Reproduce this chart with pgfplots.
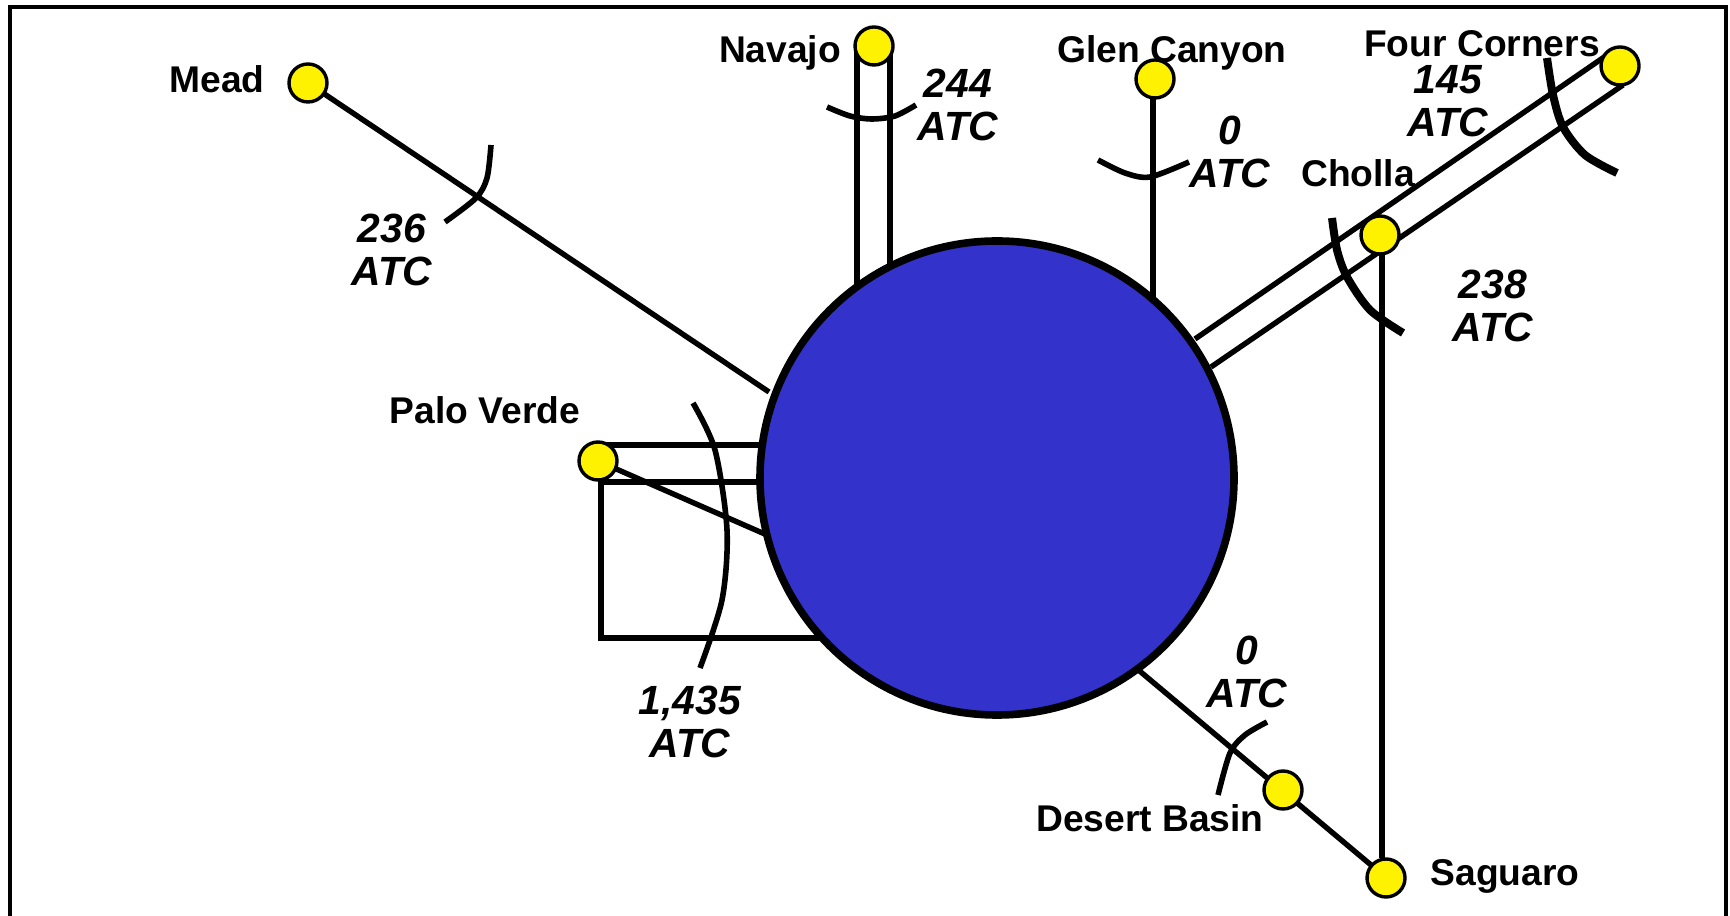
\documentclass[border=0pt]{standalone}
\usepackage{fontspec}
\setmainfont{Liberation Sans}
\usepackage{pgfplots}
\pgfplotsset{compat=1.18}
\definecolor{hub}{RGB}{51,51,204}
\tikzset{
  ln/.style={black, line width=1.35pt, mark=none},
  cut/.style={black, line width=1.4pt, mark=none, smooth},
  cutb/.style={black, line width=2pt, mark=none, smooth},
  lbl/.style={font=\fontsize{9.3}{11}\selectfont\bfseries, anchor=base, inner sep=0pt},
  atc/.style={font=\fontsize{10.2}{10.8}\selectfont\bfseries\itshape, align=center, inner sep=0pt},
}
\begin{document}
\begin{tikzpicture}
\begin{axis}[
    width=432.5pt, height=229pt, scale only axis,
    xmin=0, xmax=1730, ymin=0, ymax=916,
    y dir=reverse, hide axis, clip=false]

% transmission paths (pixel coordinates of the sketch)
\addplot[ln] coordinates {(308,83) (769,392)};        % Mead
\addplot[ln] coordinates {(1153,79) (1153,300)};      % Glen Canyon
\addplot[ln] coordinates {(1195,339) (1610,53)};      % Four Corners, upper
\addplot[ln] coordinates {(1211,367) (1623,85)};      % Four Corners, lower
\addplot[ln] coordinates {(1382,235) (1382,858)};     % Cholla - Saguaro
\addplot[ln] coordinates {(598,445) (765,445)};       % Palo Verde
\addplot[ln] coordinates {(598,482) (765,482)};
\addplot[ln] coordinates {(598,461) (767,535)};
\addplot[ln] coordinates {(601,482) (601,638) (822,638)};

% hub
\addplot[only marks, mark=*, mark size=59.25pt,
  mark options={fill=hub, draw=black, line width=1.9pt}] coordinates {(997,478)};

% stations
\addplot[only marks, mark=*, mark size=4.75pt,
  mark options={fill=yellow, draw=black, line width=0.85pt}] coordinates {
  (308,83) (874,46) (1155,79) (1620,66) (1380,235) (598,461) (1283,790) (1386,878)};

\addplot[ln] coordinates {(857,44) (857,287)};        % Navajo
\addplot[ln] coordinates {(890,44) (890,267)};
\addplot[ln] coordinates {(1136,668) (1371,865)};     % Desert Basin - Saguaro

% cut lines
\addplot[cut] coordinates {(491,145) (487,178) (476,198) (445,222)};
\addplot[cut] coordinates {(827,107) (850,116) (872,119) (895,116) (916,105)};
\addplot[cut] coordinates {(1098,160) (1125,173) (1150,177) (1189,162)};
\addplot[cutb] coordinates {(1547,58) (1553,95) (1563,127) (1585,155) (1617,173)};
\addplot[cutb] coordinates {(1332,218) (1337,250) (1347,277) (1370,310) (1403,333)};
\addplot[cut] coordinates {(693,403) (715,450) (727,530) (722,600) (700,668)};
\addplot[cut] coordinates {(1267,722) (1245,735) (1230,753) (1218,795)};

% frame
\addplot[black, line width=1pt, mark=none] coordinates {(10,916) (10,7) (1726,7) (1726,916)};

% station names
\node[lbl] at (axis cs:217,93) {Mead};
\node[lbl] at (axis cs:780,63) {Navajo};
\node[lbl] at (axis cs:1172,63) {Glen Canyon};
\node[lbl] at (axis cs:1482,57) {Four Corners};
\node[lbl] at (axis cs:1358,187) {Cholla};
\node[lbl] at (axis cs:485,424) {Palo Verde};
\node[lbl] at (axis cs:1150,831) {Desert Basin};
\node[lbl] at (axis cs:1505,885) {Saguaro};

% ATC values
\node[atc] at (axis cs:392,250) {236\\ATC};
\node[atc] at (axis cs:958,105) {244\\ATC};
\node[atc] at (axis cs:1230,152) {0\\ATC};
\node[atc] at (axis cs:1448,101) {145\\ATC};
\node[atc] at (axis cs:1493,306) {238\\ATC};
\node[atc] at (axis cs:690,722) {1,435\\ATC};
\node[atc] at (axis cs:1247,672) {0\\ATC};
\end{axis}
\pgfresetboundingbox
\path (current axis.south west) rectangle (current axis.north east);
\end{tikzpicture}
\end{document}
